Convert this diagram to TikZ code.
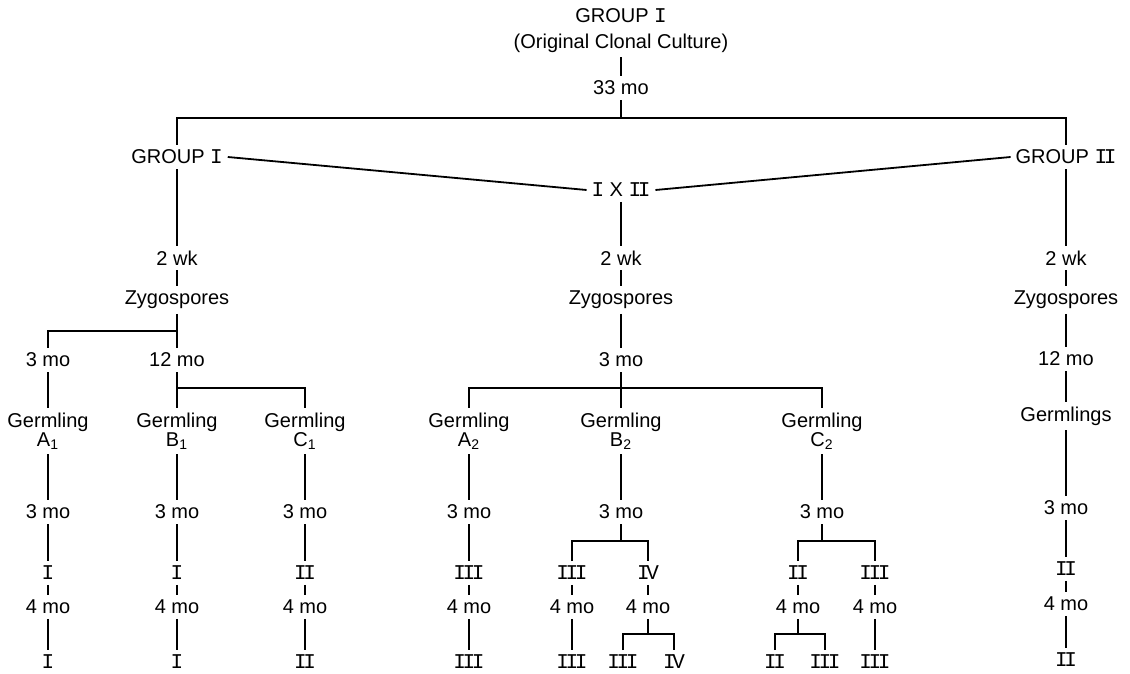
\documentclass[tikz,border=0pt]{standalone}
\usepackage{fontspec}
\setmainfont{Liberation Sans}
\newfontfamily\rnfont[LetterSpace=-16]{Liberation Mono}
\newcommand{\RN}[1]{{\rnfont\fontsize{10.5}{11}\selectfont #1}}
\begin{document}
\begin{tikzpicture}[x=0.5pt,y=-0.5pt,
  every node/.style={font=\fontsize{10}{11.5}\selectfont, inner sep=2.5pt, outer sep=0pt, align=center},
  conn/.style={line width=0.9pt}]
\useasboundingbox (0,0) rectangle (1130,674);
% top
\node (top1) at (621,16) {GROUP \RN{I}};
\node (top2) at (621,43) {(Original Clonal Culture)};
\node (t33) at (621,88) {33 mo};
\coordinate (hb) at (621,118);
\node (gI) at (177,157) {GROUP \RN{I}};
\node (gII) at (1066,157) {GROUP \RN{II}};
\node (x) at (621,190) {\RN{I} X \RN{II}};
\draw[conn] (top2) -- (t33);
\draw[conn] (t33) -- (hb);
\draw[conn] (gI.north) |- (hb) -| (gII.north);
\draw[conn] (gI.east) -- (x.west);
\draw[conn] (x.east) -- (gII.west);
% left
\node (L2wk) at (177,258) {2 wk};
\node (Lzy) at (177,300) {Zygospores};
\coordinate (Lb) at (177,331);
\node (L3) at (48,360) {3 mo};
\node (L12) at (177,360) {12 mo};
\coordinate (Lb2) at (177,388);
\node (GA1) at (48,431) {Germling\\[-2pt]A\textsubscript{1}};
\node (GB1) at (177,431) {Germling\\[-2pt]B\textsubscript{1}};
\node (GC1) at (305,431) {Germling\\[-2pt]C\textsubscript{1}};
\draw[conn] (gI) -- (L2wk);
\draw[conn] (L2wk) -- (Lzy);
\draw[conn] (Lzy) -- (L12);
\draw[conn] (Lb) -| (L3.north);
\draw[conn] (L3) -- (GA1);
\draw[conn] (L12) -- (GB1);
\draw[conn] (Lb2) -| (GC1.north);
% left chains
\node (A1a) at (48,512) {3 mo};
\node (A1b) at (48,573) {\RN{I}};
\node (A1c) at (48,607) {4 mo};
\node (A1d) at (48,662) {\RN{I}};
\node (B1a) at (177,512) {3 mo};
\node (B1b) at (177,573) {\RN{I}};
\node (B1c) at (177,607) {4 mo};
\node (B1d) at (177,662) {\RN{I}};
\node (C1a) at (305,512) {3 mo};
\node (C1b) at (305,573) {\RN{II}};
\node (C1c) at (305,607) {4 mo};
\node (C1d) at (305,662) {\RN{II}};
\draw[conn] (GA1) -- (A1a); \draw[conn] (A1a) -- (A1b); \draw[conn] (A1b) -- (A1c); \draw[conn] (A1c) -- (A1d);
\draw[conn] (GB1) -- (B1a); \draw[conn] (B1a) -- (B1b); \draw[conn] (B1b) -- (B1c); \draw[conn] (B1c) -- (B1d);
\draw[conn] (GC1) -- (C1a); \draw[conn] (C1a) -- (C1b); \draw[conn] (C1b) -- (C1c); \draw[conn] (C1c) -- (C1d);
% middle
\node (M2wk) at (621,258) {2 wk};
\node (Mzy) at (621,300) {Zygospores};
\node (M3) at (621,360) {3 mo};
\coordinate (Mb) at (621,388);
\node (GA2) at (469,431) {Germling\\[-2pt]A\textsubscript{2}};
\node (GB2) at (621,431) {Germling\\[-2pt]B\textsubscript{2}};
\node (GC2) at (822,431) {Germling\\[-2pt]C\textsubscript{2}};
\draw[conn] (x) -- (M2wk);
\draw[conn] (M2wk) -- (Mzy);
\draw[conn] (Mzy) -- (M3);
\draw[conn] (M3) -- (GB2);
\draw[conn] (GA2.north) |- (Mb) -| (GC2.north);
% A2
\node (A2a) at (469,512) {3 mo};
\node (A2b) at (469,573) {\RN{III}};
\node (A2c) at (469,607) {4 mo};
\node (A2d) at (469,662) {\RN{III}};
\draw[conn] (GA2) -- (A2a); \draw[conn] (A2a) -- (A2b); \draw[conn] (A2b) -- (A2c); \draw[conn] (A2c) -- (A2d);
% B2
\node (B2a) at (621,512) {3 mo};
\coordinate (B2br) at (621,541);
\node (B2b1) at (572,573) {\RN{III}};
\node (B2b2) at (648,573) {\RN{IV}};
\node (B2c1) at (572,607) {4 mo};
\node (B2c2) at (648,607) {4 mo};
\coordinate (B2br2) at (648,634);
\node (B2d1) at (572,662) {\RN{III}};
\node (B2d2) at (623,662) {\RN{III}};
\node (B2d3) at (674,662) {\RN{IV}};
\draw[conn] (GB2) -- (B2a);
\draw[conn] (B2a) -- (B2br);
\draw[conn] (B2b1.north) |- (B2br) -| (B2b2.north);
\draw[conn] (B2b1) -- (B2c1); \draw[conn] (B2c1) -- (B2d1);
\draw[conn] (B2b2) -- (B2c2); \draw[conn] (B2c2) -- (B2br2);
\draw[conn] (B2d2.north) |- (B2br2) -| (B2d3.north);
% C2
\node (C2a) at (822,512) {3 mo};
\coordinate (C2br) at (822,541);
\node (C2b1) at (798,573) {\RN{II}};
\node (C2b2) at (875,573) {\RN{III}};
\node (C2c1) at (798,607) {4 mo};
\node (C2c2) at (875,607) {4 mo};
\coordinate (C2br2) at (798,634);
\node (C2d1) at (775,662) {\RN{II}};
\node (C2d2) at (825,662) {\RN{III}};
\node (C2d3) at (875,662) {\RN{III}};
\draw[conn] (GC2) -- (C2a);
\draw[conn] (C2a) -- (C2br);
\draw[conn] (C2b1.north) |- (C2br) -| (C2b2.north);
\draw[conn] (C2b1) -- (C2c1); \draw[conn] (C2c1) -- (C2br2);
\draw[conn] (C2d1.north) |- (C2br2) -| (C2d2.north);
\draw[conn] (C2b2) -- (C2c2); \draw[conn] (C2c2) -- (C2d3);
% right
\node (R2wk) at (1066,258) {2 wk};
\node (Rzy) at (1066,300) {Zygospores};
\node (R12) at (1066,359) {12 mo};
\node (Rg) at (1066,416) {Germlings};
\node (R3) at (1066,508) {3 mo};
\node (R4a) at (1066,569) {\RN{II}};
\node (R4) at (1066,604) {4 mo};
\node (R5) at (1066,660) {\RN{II}};
\draw[conn] (gII) -- (R2wk);
\draw[conn] (R2wk) -- (Rzy);
\draw[conn] (Rzy) -- (R12);
\draw[conn] (R12) -- (Rg);
\draw[conn] (Rg) -- (R3);
\draw[conn] (R3) -- (R4a);
\draw[conn] (R4a) -- (R4);
\draw[conn] (R4) -- (R5);
\end{tikzpicture}
\end{document}
